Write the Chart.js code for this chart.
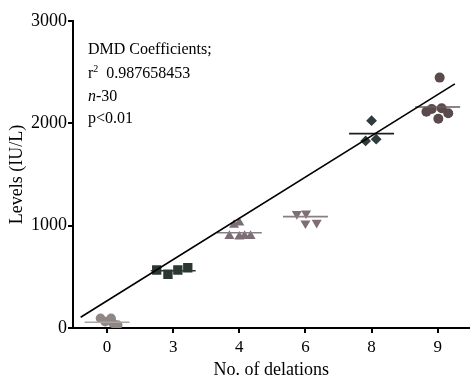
<!DOCTYPE html>
<html>
<head>
<meta charset="utf-8">
<script src="https://cdn.jsdelivr.net/npm/chart.js@4/dist/chart.umd.min.js"></script>
<style>
  html, body { margin: 0; padding: 0; background: #fff; }
  #wrap { width: 476px; height: 381px; }
</style>
</head>
<body>
<div id="wrap"><canvas id="chart" width="476" height="381"></canvas></div>
<script>
// tick labels (number of deletions)
const deletionLabels = ['0', '3', '4', '6', '8', '9'];

// levels (IU/L) per group, with the small horizontal scatter of each dot
const levels0 = [95, 95, 62, 46, 29];
const jitter0 = [-0.10, 0.06, -0.03, 0.09, 0.16];
const levels3 = [567, 525, 567, 589];
const jitter3 = [-0.25, -0.08, 0.07, 0.22];
const levels4 = [1007, 1029, 899, 892, 899, 899];
const jitter4 = [-0.08, 0.0, -0.15, 0.0, 0.08, 0.17];
const levels6 = [1114, 1121, 1023, 1029];
const jitter6 = [-0.13, 0.01, 0.0, 0.17];
const levels8 = [2026, 1828, 1845];
const jitter8 = [0.0, -0.09, 0.07];
const levels9 = [2114, 2140, 2447, 2148, 2099, 2045];
const jitter9 = [-0.17, -0.09, 0.03, 0.06, 0.16, 0.01];

// group means (short horizontal bars)
const meanLevels = [56, 560, 931, 1088, 1899, 2160];

// regression line end points
const fitX = [-0.40, 5.26];
const fitY = [105, 2385];

const noteTitle = 'DMD Coefficients;';
const noteR2 = '0.987658453';
const noteN = '30';
const noteP = 'p<0.01';

const groupLevels = [levels0, levels3, levels4, levels6, levels8, levels9];
const groupJitter = [jitter0, jitter3, jitter4, jitter6, jitter8, jitter9];
const dotColors = ['#8f8783', '#2b3832', '#7b6e75', '#7f6e74', '#2f3b3d', '#5b4a4c'];
const barColors = ['#aaa4a1', '#2b3832', '#8a7e84', '#8a7e84', '#1e1e1e', '#6a5b5d'];
const dotStyles = ['circle', 'rect', 'triangle', 'triangle', 'rectRot', 'circle'];
const dotRotation = [0, 0, 0, 180, 0, 0];
const dotRadius = [4.8, 6.6, 5.8, 5.8, 5.4, 5.0];

const FONT = "'Liberation Serif', 'Times New Roman', serif";

const datasets = [];
groupLevels.forEach((vals, i) => {
  datasets.push({
    type: 'scatter',
    data: vals.map((v, k) => ({ x: i + groupJitter[i][k], y: v })),
    backgroundColor: dotColors[i],
    borderColor: dotColors[i],
    borderWidth: 0,
    pointStyle: dotStyles[i],
    rotation: dotRotation[i],
    pointRadius: dotRadius[i],
    order: 2
  });
  datasets.push({
    type: 'line',
    data: [{ x: i - 0.34, y: meanLevels[i] }, { x: i + 0.34, y: meanLevels[i] }],
    borderColor: barColors[i],
    borderWidth: 1.6,
    pointRadius: 0,
    order: 1
  });
});
datasets.push({
  type: 'line',
  data: fitX.map((x, k) => ({ x: x, y: fitY[k] })),
  borderColor: '#000',
  borderWidth: 1.6,
  pointRadius: 0,
  order: 0
});

const notePlugin = {
  id: 'note',
  afterDraw(chart) {
    const ctx = chart.ctx;
    const left = chart.chartArea.left + 15;
    const top = chart.chartArea.top;
    ctx.save();
    ctx.fillStyle = '#000';
    ctx.textBaseline = 'middle';
    ctx.textAlign = 'left';
    ctx.font = `16px ${FONT}`;
    ctx.fillText(noteTitle, left, top + 29);
    // r squared
    ctx.fillText('r', left, top + 53);
    let w = ctx.measureText('r').width;
    ctx.font = `10px ${FONT}`;
    ctx.fillText('2', left + w, top + 48);
    w += ctx.measureText('2').width;
    ctx.font = `16px ${FONT}`;
    ctx.fillText('  ' + noteR2, left + w, top + 53);
    // n
    ctx.font = `italic 16px ${FONT}`;
    ctx.fillText('n', left, top + 76);
    w = ctx.measureText('n').width;
    ctx.font = `16px ${FONT}`;
    ctx.fillText('-' + noteN, left + w, top + 76);
    ctx.fillText(noteP, left, top + 98);
    ctx.restore();
  }
};

new Chart(document.getElementById('chart'), {
  data: { datasets },
  plugins: [notePlugin],
  options: {
    responsive: false,
    animation: false,
    layout: { padding: { top: 21, right: 0, left: 0, bottom: 0 } },
    plugins: { legend: { display: false }, tooltip: { enabled: false } },
    scales: {
      x: {
        type: 'linear',
        min: -0.516,
        max: 5.48,
        afterBuildTicks: axis => { axis.ticks = deletionLabels.map((l, i) => ({ value: i })); },
        afterFit: axis => { axis.height = 53; },
        ticks: {
          color: '#000',
          font: { family: FONT, size: 17 },
          padding: 4,
          callback: v => deletionLabels[v]
        },
        grid: { drawOnChartArea: false, drawTicks: true, tickLength: 5, color: '#000', lineWidth: 2 },
        border: { display: true, color: '#000', width: 2 },
        title: {
          display: true,
          text: 'No. of delations',
          color: '#000',
          font: { family: FONT, size: 18 },
          padding: { top: 0, bottom: 0 }
        }
      },
      y: {
        min: 0,
        max: 3000,
        afterFit: axis => { axis.width = 73; },
        ticks: {
          stepSize: 1000,
          color: '#000',
          font: { family: FONT, size: 18 },
          padding: 1,
          callback: v => String(v)
        },
        grid: { drawOnChartArea: false, drawTicks: true, tickLength: 5, color: '#000', lineWidth: 2 },
        border: { display: true, color: '#000', width: 2 },
        title: {
          display: true,
          text: 'Levels (IU/L)',
          color: '#000',
          font: { family: FONT, size: 18 },
          padding: { top: 6, bottom: 0 }
        }
      }
    }
  }
});
</script>
</body>
</html>
